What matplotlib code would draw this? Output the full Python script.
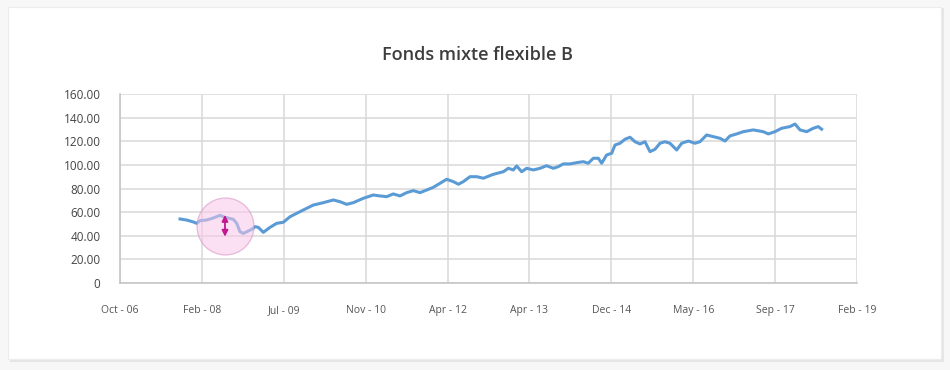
import matplotlib.pyplot as plt
from matplotlib.patches import Rectangle

# ===== DATA =====
x_labels = ["Oct - 06", "Feb - 08", "Jul - 09", "Nov - 10", "Apr - 12",
            "Apr - 13", "Dec - 14", "May - 16", "Sep - 17", "Feb - 19"]
y_ticks = [0, 20, 40, 60, 80, 100, 120, 140, 160]
y_labels = ["0", "20.00", "40.00", "60.00", "80.00", "100.00", "120.00", "140.00", "160.00"]

# position along the axis, in tick intervals (0 = Oct - 06, 9 = Feb - 19)
pos = [0.733, 0.814, 0.895, 0.937, 0.977, 1.059, 1.139, 1.221, 1.282, 1.384,
       1.425, 1.465, 1.506, 1.608, 1.649, 1.689, 1.750, 1.832, 1.913, 1.994,
       2.076, 2.158, 2.238, 2.320, 2.361, 2.483, 2.605, 2.687, 2.768, 2.849,
       2.971, 3.093, 3.175, 3.257, 3.337, 3.419, 3.501, 3.582, 3.663, 3.745,
       3.826, 3.908, 3.989, 4.071, 4.132, 4.192, 4.274, 4.356, 4.437, 4.559,
       4.681, 4.742, 4.803, 4.844, 4.905, 4.966, 5.047, 5.129, 5.210, 5.291,
       5.352, 5.413, 5.495, 5.577, 5.658, 5.719, 5.780, 5.841, 5.882, 5.943,
       6.004, 6.045, 6.106, 6.167, 6.228, 6.289, 6.350, 6.411, 6.472, 6.533,
       6.594, 6.655, 6.716, 6.798, 6.859, 6.940, 7.021, 7.082, 7.164, 7.245,
       7.327, 7.388, 7.449, 7.531, 7.611, 7.733, 7.855, 7.917, 7.998, 8.080,
       8.181, 8.243, 8.304, 8.386, 8.466, 8.527, 8.568]
fund = [54.2, 53.3, 51.7, 50.5, 52.8, 53.3, 55.0, 57.3, 55.6, 53.9,
        50.5, 43.4, 42.0, 45.4, 47.7, 47.1, 42.9, 47.1, 50.5, 51.4,
        56.1, 59.0, 61.8, 64.6, 66.0, 68.0, 70.3, 68.8, 66.6, 68.0,
        71.7, 74.5, 73.7, 73.1, 75.4, 73.7, 76.5, 78.2, 76.5, 78.7,
        81.0, 84.4, 87.8, 85.8, 83.6, 85.8, 90.0, 90.0, 88.7, 92.0,
        94.2, 97.1, 95.7, 99.1, 94.2, 97.1, 95.7, 97.1, 99.3, 97.1,
        98.5, 100.8, 100.8, 101.9, 102.7, 101.4, 105.6, 105.6, 101.4, 108.4,
        109.8, 116.8, 118.3, 121.7, 123.4, 119.6, 117.7, 119.6, 111.2, 113.2,
        118.3, 119.6, 118.3, 112.6, 118.3, 120.2, 118.3, 119.6, 125.3, 123.9,
        122.5, 120.2, 124.5, 126.2, 128.1, 129.6, 128.1, 126.2, 128.1, 131.0,
        132.4, 134.6, 129.6, 128.1, 131.0, 132.4, 130.2]

# highlighted drawdown
mark_pos = 1.282
mark_top = 57.6
mark_bottom = 39.2
mark_center = 48.5

fig = plt.figure(figsize=(9.5, 3.7), dpi=100, facecolor="#f7f7f7")

# card with soft shadow
fig.patches.append(Rectangle((10 / 950, 8 / 370), 934 / 950, 354 / 370, transform=fig.transFigure,
                             facecolor="#e6e6e6", edgecolor="none", zorder=-2))
fig.patches.append(Rectangle((8 / 950, 11 / 370), 933 / 950, 352 / 370, transform=fig.transFigure,
                             facecolor="white", edgecolor="#ececec", linewidth=0.8, zorder=-1))

ax = fig.add_axes([120 / 950, 87 / 370, 737 / 950, 189 / 370])
ax.set_zorder(2)
ax.set_facecolor("white")

ax.plot(pos, fund, color="#5b9bd5", linewidth=2.2, solid_joinstyle="round", zorder=3)

# pink circle and arrow
ax.plot([mark_pos], [mark_center], marker="o", markersize=41, markerfacecolor="#f7c8e8",
        markeredgecolor="#d68ac2", markeredgewidth=0.9, alpha=0.55, zorder=4)
ax.annotate("", xy=(mark_pos, mark_bottom), xytext=(mark_pos, mark_top),
            arrowprops=dict(arrowstyle="<|-|>", color="#c2188f", lw=1.3,
                            mutation_scale=9, shrinkA=0, shrinkB=0), zorder=5)

ax.set_xlim(0, 9)
ax.set_ylim(0, 160)
ax.set_xticks(range(len(x_labels)))
ax.set_xticklabels(x_labels, fontsize=7.5, color="#555555", family="Open Sans")
ax.set_yticks(y_ticks)
ax.set_yticklabels(y_labels, fontsize=8.5, color="#444444", family="Open Sans")
ax.tick_params(length=0)
ax.tick_params(axis="x", pad=16)
ax.tick_params(axis="y", pad=14)

ax.grid(True, color="#d9d9d9", linewidth=1.1)
ax.set_axisbelow(True)
for side in ["top", "right"]:
    ax.spines[side].set_visible(False)
for side in ["left", "bottom"]:
    ax.spines[side].set_color("#c6c6c6")
    ax.spines[side].set_linewidth(1.2)

fig.text(0.503, 315 / 370, "Fonds mixte flexible B", ha="center", va="center",
         fontsize=13, color="#3d3d3d", family="Open Sans", fontweight="semibold")

plt.savefig("out.png", dpi=100, facecolor=fig.get_facecolor())
plt.close()
